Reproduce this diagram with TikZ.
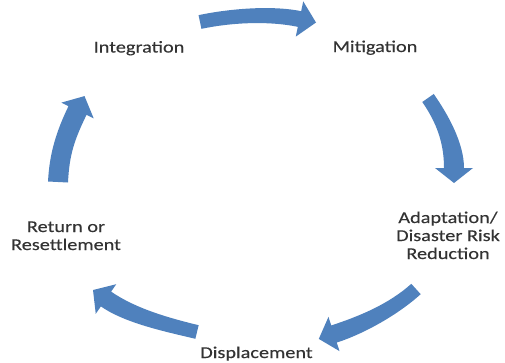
\documentclass[tikz,border=0pt]{standalone}
\usepackage{fontspec}
\setmainfont[FakeStretch=1.23,FakeBold=0.2]{Carlito}
\usetikzlibrary{calc}
\definecolor{arrowblue}{HTML}{4F81BD}
\definecolor{labelgray}{HTML}{333333}
% #1 tail, #2 ctrl1, #3 ctrl2, #4 head base, #5 tip,
% #6 half width at tail, #7 half width at head base, #8 half head width
\newcommand{\cycarrow}[8]{%
  \coordinate (t) at #1; \coordinate (c1) at #2; \coordinate (c2) at #3;
  \coordinate (b) at #4; \coordinate (tip) at #5;
  \coordinate (tl) at ($(t)!#6!90:(c1)$);
  \coordinate (tr) at ($(t)!#6!-90:(c1)$);
  \coordinate (bl) at ($(b)!#7!90:(tip)$);
  \coordinate (br) at ($(b)!#7!-90:(tip)$);
  \coordinate (hl) at ($(b)!#8!90:(tip)$);
  \coordinate (hr) at ($(b)!#8!-90:(tip)$);
  \fill[cycfill] (tl) .. controls ($(c1)+(tl)-(t)$) and ($(c2)+(bl)-(b)$) .. (bl)
    -- (hl) -- (tip) -- (hr) -- (br)
    .. controls ($(c2)+(br)-(b)$) and ($(c1)+(tr)-(t)$) .. (tr) -- cycle;
}
\begin{document}
\begin{tikzpicture}[x=1pt,y=-1pt,
  lbl/.style={font=\fontsize{16.5}{18}\selectfont, text=labelgray, inner sep=0pt, align=center},
  cycfill/.style={fill=arrowblue}]
\useasboundingbox[fill=white] (0,0) rectangle (505,362);
% labels
\node[lbl, anchor=base] (integ) at (139,52.5) {Integration};
\node[lbl, anchor=base] (mitig) at (375,52) {Mitigation};
\node[lbl, anchor=base] (adapt) at (448,259) {Adaptation/\\Disaster Risk\\Reduction};
\node[lbl, anchor=base] (displ) at (256.5,358) {Displacement};
\node[lbl, anchor=base] (retur) at (66,250) {Return or\\Resettlement};
% curved block arrows
\cycarrow{(200,22)}{(229.3,15.8)}{(269.3,12.8)}{(299.5,19)}{(316,22.5)}{7pt}{8pt}{18pt}
\cycarrow{(428,98)}{(442.3,118.5)}{(454,143)}{(454,168)}{(454,183)}{7pt}{10pt}{19pt}
\cycarrow{(416,289)}{(393.7,309.1)}{(362.5,324.7)}{(334,334)}{(318.8,338.9)}{7pt}{9pt}{18pt}
\cycarrow{(197,332)}{(168,325)}{(130.6,316.1)}{(106,299)}{(93,290)}{7pt}{9pt}{18pt}
\cycarrow{(58,182)}{(59.4,154)}{(65.3,135.7)}{(77.5,110.5)}{(84.5,96.1)}{10pt}{10pt}{18pt}
\end{tikzpicture}
\end{document}
